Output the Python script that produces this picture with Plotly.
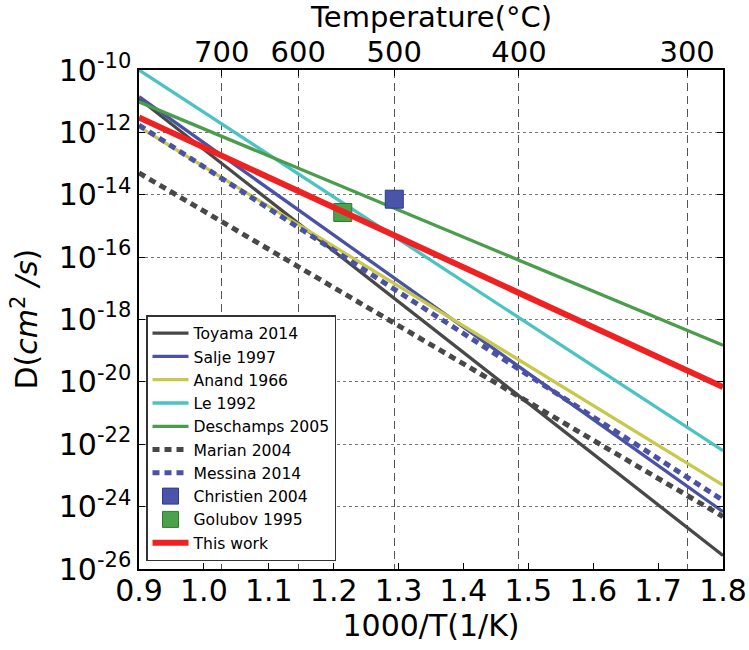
import plotly.graph_objects as go

# ---------------- data ----------------
x_ends = [0.9, 1.8]                       # 1000/T (1/K)
toyama_2014 = [1.2e-11, 2.7e-26]
salje_1997 = [1.4e-11, 6.9e-25]
anand_1966 = [1.5e-12, 4.9e-24]
le_1992 = [1.0e-10, 6.2e-23]
deschamps_2005 = [9.5e-12, 1.5e-19]
marian_2004 = [5.0e-14, 4.8e-25]
messina_2014 = [1.7e-12, 1.6e-24]
this_work = [3.0e-12, 6.8e-21]

christien_x = [1.2934]
christien_y = [7.2e-15]
golubov_x = [1.214]
golubov_y = [2.7e-15]

x_ticks = [0.9, 1.0, 1.1, 1.2, 1.3, 1.4, 1.5, 1.6, 1.7, 1.8]
y_exponents = [-26, -24, -22, -20, -18, -16, -14, -12, -10]
top_temps_c = [700, 600, 500, 400, 300]

# ---------------- figure ----------------
fig = go.Figure()

def line(name, y, color, width, dash="solid"):
    fig.add_trace(go.Scatter(x=x_ends, y=y, mode="lines", name=name,
                             line=dict(color=color, width=width, dash=dash)))

line("Toyama 2014", toyama_2014, "#484848", 3.3)
line("Salje 1997", salje_1997, "#4a52a6", 3.3)
line("Anand 1966", anand_1966, "#c8c84c", 3.3)
line("Le 1992", le_1992, "#4cc3c3", 3.3)
line("Deschamps 2005", deschamps_2005, "#4a9d4a", 3.3)
line("Marian 2004", marian_2004, "#484848", 5, "7px,5px")
line("Messina 2014", messina_2014, "#4a52a6", 5, "7px,5px")

fig.add_trace(go.Scatter(x=christien_x, y=christien_y, mode="markers", name="Christien 2004",
                         marker=dict(symbol="square", size=18, color="#4a55aa",
                                     line=dict(color="#2e3a8a", width=1))))
fig.add_trace(go.Scatter(x=golubov_x, y=golubov_y, mode="markers", name="Golubov 1995",
                         marker=dict(symbol="square", size=18, color="#4ca24c",
                                     line=dict(color="#2e7a2e", width=1))))

line("This work", this_work, "#ee2222", 6)

# invisible trace so the top (temperature) axis is drawn
top_pos = [1000.0 / (t + 273.15) for t in top_temps_c]
fig.add_trace(go.Scatter(x=[0.9, 1.8], y=[1e-20, 1e-20], xaxis="x2", mode="markers",
                         marker=dict(opacity=0), showlegend=False, hoverinfo="skip"))

FONT = "DejaVu Sans"
fig.update_layout(
    width=749, height=650,
    margin=dict(l=139, r=26, t=70, b=81, autoexpand=False),
    paper_bgcolor="white", plot_bgcolor="white",
    font=dict(family=FONT, color="black", size=30),
    showlegend=True,
    legend=dict(x=0.012, y=0.016, xanchor="left", yanchor="bottom",
                bgcolor="white", bordercolor="#333333", borderwidth=1.5,
                font=dict(family=FONT, size=15.6, color="black"),
                tracegroupgap=0, itemwidth=36),
    xaxis=dict(range=[0.9, 1.8], tickvals=x_ticks, tickformat=".1f",
               ticks="inside", ticklen=6, tickcolor="black",
               showline=True, linecolor="black", linewidth=1.5, mirror=True,
               showgrid=False, zeroline=False, automargin=False,
               tickfont=dict(size=30), ticklabelstandoff=-6,
               title=dict(text="1000/T(1/K)", font=dict(size=30), standoff=6)),
    xaxis2=dict(range=[0.9, 1.8], overlaying="x", side="top",
                tickvals=top_pos, ticktext=[str(t) for t in top_temps_c],
                ticks="inside", ticklen=6, tickcolor="black",
                showline=False, showgrid=True, gridcolor="#555555",
                gridwidth=1, griddash="8px,5px", zeroline=False, automargin=False,
                tickfont=dict(size=29), ticklabelstandoff=1),
    yaxis=dict(type="log", range=[-26, -10],
               tickvals=[10.0 ** e for e in y_exponents],
               ticktext=["10<sup>%d</sup>" % e for e in y_exponents],
               ticks="inside", ticklen=6, tickcolor="black",
               showline=True, linecolor="black", linewidth=1.5, mirror="ticks",
               showgrid=True, gridcolor="#777777", gridwidth=1, griddash="dot",
               zeroline=False, automargin=False, tickfont=dict(size=30)),
    annotations=[
        dict(text="D(<i>cm</i><sup>2</sup> <i>/s</i>)", xref="paper", yref="paper",
             x=-0.195, y=0.5, xanchor="center", yanchor="middle",
             textangle=-90, showarrow=False, font=dict(size=30, family=FONT)),
        dict(text="Temperature(°C)", xref="paper", yref="paper",
             x=0.5, y=1.107, xanchor="center", yanchor="middle",
             showarrow=False, font=dict(size=29, family=FONT)),
    ],
)

fig.write_html("out.html")
